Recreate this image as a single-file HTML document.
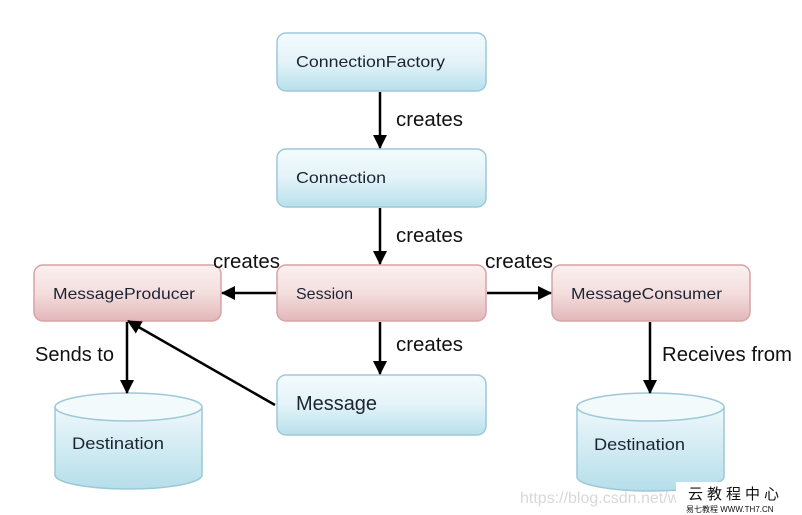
<!DOCTYPE html>
<html><head><meta charset="utf-8"><style>
html,body{margin:0;padding:0;background:#fff;}
svg{display:block;}
text{font-family:"Liberation Sans","DejaVu Sans",sans-serif;}
</style></head><body>
<svg width="802" height="515" viewBox="0 0 802 515" xmlns="http://www.w3.org/2000/svg">
<defs>
<linearGradient id="b" x1="0" y1="0" x2="0" y2="1">
<stop offset="0" stop-color="#f4fbfd"/><stop offset="0.5" stop-color="#e3f3f8"/><stop offset="1" stop-color="#b8e0ec"/></linearGradient>
<linearGradient id="r" x1="0" y1="0" x2="0" y2="1">
<stop offset="0" stop-color="#fbf0f0"/><stop offset="0.5" stop-color="#f4dede"/><stop offset="1" stop-color="#e2b7b9"/></linearGradient>
<linearGradient id="c" x1="0" y1="0" x2="0" y2="1">
<stop offset="0" stop-color="#eef8fb"/><stop offset="1" stop-color="#b5deea"/></linearGradient>
<marker id="a2" markerWidth="14" markerHeight="14" refX="13" refY="7" orient="auto" markerUnits="userSpaceOnUse" viewBox="0 0 14 14">
<path d="M0,0 L14,7 L0,14 z" fill="#000"/></marker>
</defs>
<g stroke="#9cc9d8" stroke-width="1.5">
<rect x="277" y="33" width="209" height="58" rx="9" fill="url(#b)"/>
<rect x="277" y="149" width="209" height="58" rx="9" fill="url(#b)"/>
<rect x="277" y="375" width="209" height="60" rx="9" fill="url(#b)"/>
</g>
<g stroke="#d7a3a6" stroke-width="1.5">
<rect x="34" y="265" width="187" height="56" rx="9" fill="url(#r)"/>
<rect x="277" y="265" width="209" height="56" rx="9" fill="url(#r)"/>
<rect x="552" y="265" width="198" height="56" rx="9" fill="url(#r)"/>
</g>
<g stroke="#9cc9d8" stroke-width="1.5" fill="url(#c)">
<path d="M55,407 L55,475 A73.5,14 0 0 0 202,475 L202,407"/>
<ellipse cx="128.5" cy="407" rx="73.5" ry="14" fill="#f2fafc"/>
<path d="M577,407 L577,477 A73.5,14 0 0 0 724,477 L724,407"/>
<ellipse cx="650.5" cy="407" rx="73.5" ry="14" fill="#f2fafc"/>
</g>
<g stroke="#000" stroke-width="2.5" fill="none">
<line x1="380" y1="92" x2="380" y2="148" marker-end="url(#a2)"/>
<line x1="380" y1="208" x2="380" y2="264" marker-end="url(#a2)"/>
<line x1="380" y1="322" x2="380" y2="374" marker-end="url(#a2)"/>
<line x1="276" y1="293" x2="222" y2="293" marker-end="url(#a2)"/>
<line x1="487" y1="293" x2="551" y2="293" marker-end="url(#a2)"/>
<line x1="275" y1="405" x2="128" y2="321" marker-end="url(#a2)"/>
<line x1="127" y1="322" x2="127" y2="393" marker-end="url(#a2)"/>
<line x1="650" y1="322" x2="650" y2="393" marker-end="url(#a2)"/>
</g>
<g fill="#1c2433" font-size="16">
<text x="296" y="67" textLength="149" lengthAdjust="spacingAndGlyphs">ConnectionFactory</text>
<text x="296" y="183" textLength="90" lengthAdjust="spacingAndGlyphs">Connection</text>
<text x="296" y="299" textLength="57" lengthAdjust="spacingAndGlyphs">Session</text>
<text x="53" y="299" textLength="142" lengthAdjust="spacingAndGlyphs">MessageProducer</text>
<text x="571" y="299" textLength="151" lengthAdjust="spacingAndGlyphs">MessageConsumer</text>
<text x="296" y="410" font-size="20" textLength="81" lengthAdjust="spacingAndGlyphs">Message</text>
<text x="72" y="449" font-size="17" textLength="92" lengthAdjust="spacingAndGlyphs">Destination</text>
<text x="594" y="450" font-size="17" textLength="91" lengthAdjust="spacingAndGlyphs">Destination</text>
</g>
<g fill="#111" font-size="20">
<text x="396" y="126" textLength="67" lengthAdjust="spacingAndGlyphs">creates</text>
<text x="396" y="242" textLength="67" lengthAdjust="spacingAndGlyphs">creates</text>
<text x="213" y="268" textLength="67" lengthAdjust="spacingAndGlyphs">creates</text>
<text x="485" y="268" textLength="68" lengthAdjust="spacingAndGlyphs">creates</text>
<text x="396" y="351" textLength="67" lengthAdjust="spacingAndGlyphs">creates</text>
<text x="35" y="361" textLength="79" lengthAdjust="spacingAndGlyphs">Sends to</text>
<text x="662" y="361" textLength="130" lengthAdjust="spacingAndGlyphs">Receives from</text>
</g>
<text x="520" y="503" font-size="16" fill="#d8d8d8">https://blog.csdn.net/weixin_448</text>
<rect x="676" y="482" width="126" height="33" fill="#fff"/>
<text x="688" y="499" font-size="15" fill="#111" font-family="Noto Sans CJK SC,sans-serif" letter-spacing="4">云教程中心</text>
<text x="686" y="512" font-size="8" fill="#111">易七教程   WWW.TH7.CN</text>
</svg>
</body></html>
